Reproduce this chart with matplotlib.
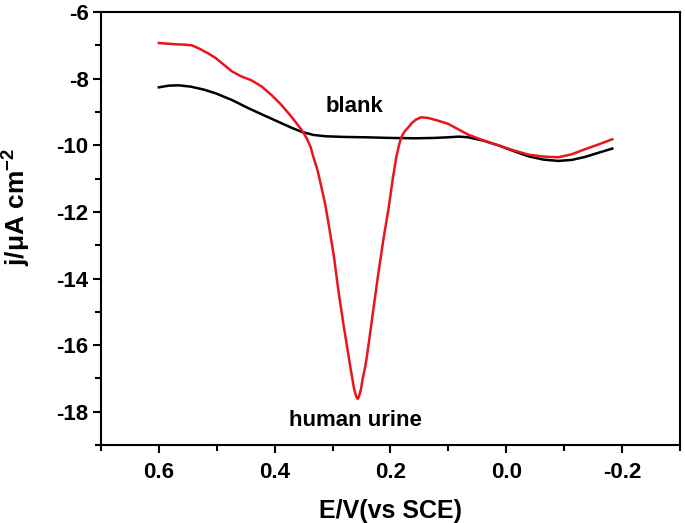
import matplotlib
matplotlib.use("Agg")
import matplotlib.pyplot as plt
from matplotlib.ticker import MultipleLocator

plt.rcParams["font.family"] = "Liberation Sans"
plt.rcParams["font.weight"] = "bold"
plt.rcParams["mathtext.fontset"] = "custom"
plt.rcParams["mathtext.bf"] = "Liberation Sans:bold"
plt.rcParams["mathtext.rm"] = "Liberation Sans:bold"
plt.rcParams["mathtext.default"] = "bf"

# blank electrolyte (black)
blank_E = [0.600, 0.583, 0.566, 0.545, 0.522, 0.502, 0.474, 0.445, 0.416,
           0.388, 0.370, 0.353, 0.333, 0.312, 0.280, 0.243, 0.200, 0.157,
           0.125, 0.100, 0.082, 0.066, 0.040, 0.014, -0.012, -0.038, -0.064,
           -0.090, -0.113, -0.136, -0.160, -0.183]
blank_j = [-8.26, -8.21, -8.20, -8.24, -8.33, -8.44, -8.64, -8.89, -9.12,
           -9.34, -9.48, -9.60, -9.69, -9.73, -9.75, -9.76, -9.78, -9.79,
           -9.78, -9.76, -9.74, -9.76, -9.86, -10.00, -10.17, -10.33, -10.43,
           -10.47, -10.44, -10.35, -10.22, -10.10]

# human urine sample (red)
urine_E = [0.600, 0.585, 0.570, 0.555, 0.543, 0.530, 0.515, 0.502, 0.488,
           0.474, 0.458, 0.440, 0.422, 0.405, 0.390, 0.376, 0.364, 0.353,
           0.345, 0.338, 0.333, 0.326, 0.320, 0.313, 0.307, 0.298, 0.290,
           0.281, 0.272, 0.267, 0.263, 0.260, 0.258, 0.257, 0.256, 0.254,
           0.251, 0.248, 0.244, 0.241, 0.236, 0.231, 0.221, 0.212, 0.203,
           0.196, 0.190, 0.186, 0.183, 0.179, 0.174, 0.169, 0.163, 0.156,
           0.147, 0.135, 0.120, 0.100, 0.083, 0.066, 0.040, 0.014, -0.012,
           -0.038, -0.064, -0.090, -0.113, -0.136, -0.160, -0.183]
urine_j = [-6.93, -6.95, -6.97, -6.98, -7.00, -7.10, -7.24, -7.38, -7.58,
           -7.78, -7.93, -8.05, -8.24, -8.50, -8.76, -9.04, -9.30, -9.55,
           -9.78, -10.05, -10.36, -10.75, -11.20, -11.75, -12.35, -13.30, -14.36,
           -15.40, -16.37, -16.90, -17.30, -17.50, -17.58, -17.61, -17.60, -17.52,
           -17.32, -17.00, -16.68, -16.37, -15.75, -15.10, -13.85, -12.80, -11.86,
           -11.00, -10.36, -10.05, -9.85, -9.68, -9.55, -9.46, -9.33, -9.23,
           -9.16, -9.18, -9.25, -9.36, -9.52, -9.68, -9.85, -10.00, -10.15,
           -10.28, -10.34, -10.36, -10.27, -10.12, -9.97, -9.82]

fig = plt.figure(figsize=(6.85, 5.23), dpi=100)
ax = fig.add_axes([0.1474, 0.149, 0.8453, 0.828])

ax.plot(blank_E, blank_j, color="black", lw=1.8, solid_joinstyle="round")
ax.plot(urine_E, urine_j, color="#e8161c", lw=1.8, solid_joinstyle="round")

ax.set_xlim(0.7, -0.3)
ax.set_ylim(-19, -6)
ax.xaxis.set_minor_locator(MultipleLocator(0.1))
ax.yaxis.set_minor_locator(MultipleLocator(1))
ax.set_xticks([0.6, 0.4, 0.2, 0.0, -0.2])
ax.set_xticklabels(["0.6", "0.4", "0.2", "0.0", "-0.2"])
ax.set_yticks([-6, -8, -10, -12, -14, -16, -18])
ax.set_yticklabels(["-6", "-8", "-10", "-12", "-14", "-16", "-18"])

for s in ax.spines.values():
    s.set_linewidth(1.5)
ax.tick_params(which="major", direction="out", length=6, width=1.5,
               labelsize=16, top=False, right=False)
ax.tick_params(which="minor", direction="out", length=4, width=1.5,
               top=False, right=False)
ax.tick_params(axis="x", pad=6)
ax.tick_params(axis="y", pad=3)

ax.set_xlabel("E/V(vs SCE)", fontsize=18, fontweight="bold", labelpad=12)
ax.set_ylabel("j/μA cm$^{-2}$", fontsize=19, fontweight="bold")
ax.yaxis.set_label_coords(-0.118, 0.55)

ax.text(0.262, -9.0, "blank", fontsize=16, fontweight="bold",
        ha="center", va="baseline")
ax.text(0.26, -18.25, "human urine", fontsize=16, fontweight="bold",
        ha="center", va="center")

fig.savefig("out.png", dpi=100, facecolor="white")
